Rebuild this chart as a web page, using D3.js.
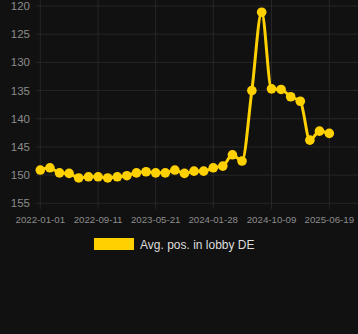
<!DOCTYPE html>
<html>
<head>
<meta charset="utf-8">
<script src="https://cdn.jsdelivr.net/npm/d3@7"></script>
<style>
	html, body { margin:0; padding:0; background:#111111; }
	svg { display:block; font-family:"Liberation Sans", Arial, sans-serif; }
</style>
</head>
<body>
<div id="chart"></div>
<script>
var dates = ["2022-01-01","2022-02-12","2022-03-26","2022-05-07","2022-06-18","2022-07-31",
	"2022-09-11","2022-10-23","2022-12-04","2023-01-15","2023-02-26","2023-04-09",
	"2023-05-21","2023-07-02","2023-08-13","2023-09-24","2023-11-05","2023-12-17",
	"2024-01-28","2024-03-10","2024-04-21","2024-06-02","2024-07-15","2024-08-27",
	"2024-10-09","2024-11-20","2025-01-01","2025-02-12","2025-03-26","2025-05-07","2025-06-19"]
var positions = [149.1,148.7,149.6,149.7,150.5,150.3,
	150.3,150.5,150.3,150.1,149.6,149.4,
	149.6,149.6,149.1,149.7,149.3,149.3,
	148.7,148.4,146.4,147.5,135.0,121.1,
	134.7,134.8,136.1,136.9,143.8,142.2,142.6]
var xTicks = ["2022-01-01","2022-09-11","2023-05-21","2024-01-28","2024-10-09","2025-06-19"]
var yTicks = [120,125,130,135,140,145,150,155]
var seriesName = "Avg. pos. in lobby DE"

var width = 358, height = 334
var gold = "#FFD100"
var parse = d3.timeParse("%Y-%m-%d")

var svg = d3.select("#chart").append("svg").attr("width",width).attr("height",height)
svg.append("rect").attr("width",width).attr("height",height).attr("fill","#111111")

var x = d3.scaleTime().domain([parse("2022-01-01"),parse("2025-06-19")]).range([40.3,329.3])
var y = d3.scaleLinear().domain([120,155]).range([6,203.3])

// grid
var grid = svg.append("g")
grid.selectAll("line.h").data(yTicks).enter().append("line")
	.attr("x1",36).attr("x2",width)
	.attr("y1",function(d){return y(d)}).attr("y2",function(d){return y(d)})
	.attr("stroke","#262626").attr("stroke-width",1)
grid.selectAll("line.v").data(xTicks).enter().append("line")
	.attr("x1",function(d){return x(parse(d))}).attr("x2",function(d){return x(parse(d))})
	.attr("y1",0).attr("y2",209)
	.attr("stroke","#262626").attr("stroke-width",1)

// axes labels
svg.append("g").selectAll("text").data(yTicks).enter().append("text")
	.text(function(d){return d})
	.attr("x",30).attr("y",function(d){return y(d)+4})
	.attr("text-anchor","end")
	.attr("fill","#8c8c8c")
	.style("font-size","11.5px")

svg.append("g").selectAll("text").data(xTicks).enter().append("text")
	.text(function(d){return d})
	.attr("x",function(d){return x(parse(d))}).attr("y",223)
	.attr("text-anchor","middle")
	.attr("fill","#8c8c8c")
	.style("font-size","9.7px")

// series
var data = dates.map(function(d,i){return {date:parse(d),value:positions[i]}})
var line = d3.line().curve(d3.curveMonotoneX)
	.x(function(d){return x(d.date)}).y(function(d){return y(d.value)})

svg.append("path").datum(data).attr("d",line)
	.attr("fill","none").attr("stroke",gold).attr("stroke-width",3)

svg.append("g").selectAll("circle").data(data).enter().append("circle")
	.attr("cx",function(d){return x(d.date)}).attr("cy",function(d){return y(d.value)})
	.attr("r",4.8).attr("fill",gold)

// legend
svg.append("rect").attr("x",94).attr("y",238).attr("width",40).attr("height",12).attr("fill",gold)
svg.append("text").text(seriesName)
	.attr("x",140).attr("y",248.5)
	.attr("fill","#dddddd")
	.style("font-size","12px")
</script>
</body>
</html>
